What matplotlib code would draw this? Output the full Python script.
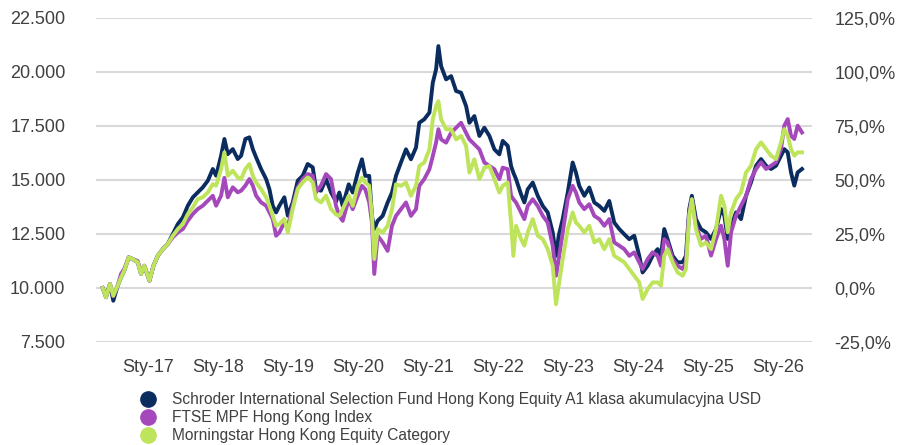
import pandas as pd
import matplotlib
matplotlib.use('Agg')
import matplotlib.pyplot as plt
import matplotlib.dates as mdates
from matplotlib.lines import Line2D
from matplotlib.ticker import FuncFormatter

plt.rcParams['font.family'] = ['Liberation Sans', 'DejaVu Sans']

labels = ['Schroder International Selection Fund Hong Kong Equity A1 klasa akumulacyjna USD',
          'FTSE MPF Hong Kong Index',
          'Morningstar Hong Kong Equity Category']
colors = ['#0b2c5f', '#a448bb', '#bde45a']

# time as decimal years (start = 10 000)
t_years = [
    2016.353, 2016.400, 2016.457, 2016.504, 2016.567, 2016.614, 2016.661, 2016.724, 2016.781, 2016.853,
    2016.900, 2016.947, 2017.019, 2017.076, 2017.139, 2017.210, 2017.281, 2017.353, 2017.424, 2017.496,
    2017.567, 2017.639, 2017.710, 2017.781, 2017.853, 2017.924, 2017.971, 2018.043, 2018.090, 2018.139,
    2018.210, 2018.281, 2018.329, 2018.390, 2018.447, 2018.496, 2018.543, 2018.614, 2018.686, 2018.733,
    2018.781, 2018.829, 2018.876, 2018.947, 2018.996, 2019.067, 2019.139, 2019.210, 2019.281, 2019.353,
    2019.400, 2019.471, 2019.543, 2019.614, 2019.686, 2019.733, 2019.781, 2019.867, 2019.924, 2019.996,
    2020.057, 2020.104, 2020.161, 2020.200, 2020.233, 2020.281, 2020.353, 2020.424, 2020.486, 2020.543,
    2020.614, 2020.686, 2020.757, 2020.829, 2020.876, 2020.947, 2021.019, 2021.067, 2021.114, 2021.147,
    2021.186, 2021.257, 2021.329, 2021.400, 2021.471, 2021.543, 2021.590, 2021.661, 2021.733, 2021.804,
    2021.876, 2021.947, 2022.019, 2022.067, 2022.139, 2022.186, 2022.219, 2022.257, 2022.329, 2022.376,
    2022.424, 2022.496, 2022.567, 2022.639, 2022.710, 2022.781, 2022.829, 2022.867, 2022.924, 2022.996,
    2023.067, 2023.114, 2023.161, 2023.233, 2023.304, 2023.376, 2023.447, 2023.519, 2023.590, 2023.661,
    2023.733, 2023.804, 2023.876, 2023.947, 2024.019, 2024.067, 2024.139, 2024.210, 2024.281, 2024.329,
    2024.376, 2024.424, 2024.496, 2024.567, 2024.639, 2024.686, 2024.733, 2024.771, 2024.829, 2024.900,
    2024.971, 2025.043, 2025.114, 2025.186, 2025.233, 2025.281, 2025.329, 2025.400, 2025.471, 2025.543,
    2025.614, 2025.686, 2025.757, 2025.829, 2025.900, 2025.971, 2026.043, 2026.090, 2026.139, 2026.186,
    2026.233, 2026.281, 2026.343,
]

schroder = [
    10000, 9570, 10185, 9410, 10110, 10490, 10800, 11420, 11340, 11190,
    10650, 11030, 10340, 11030, 11500, 11800, 12040, 12500, 12960, 13270,
    13810, 14200, 14430, 14660, 14970, 15510, 15200, 16125, 16900, 16200,
    16430, 15970, 16125, 16900, 16975, 16430, 16050, 15510, 15045, 14580,
    13810, 13500, 13810, 14200, 13350, 13965, 14970, 15200, 15740, 15585,
    14580, 14505, 15045, 14430, 14000, 14420, 13800, 14800, 14420, 15340,
    15960, 15190, 15190, 13340, 12730, 13110, 13340, 13960, 14420, 15190,
    15810, 16420, 15960, 16500, 17650, 17810, 18120, 19500, 20120, 21200,
    20270, 19660, 19810, 19120, 19040, 18420, 17650, 17960, 17040, 17420,
    17040, 16420, 16190, 16810, 16580, 15650, 15340, 15040, 14340, 13960,
    14570, 14880, 14270, 13800, 13500, 12570, 11490, 12420, 13190, 14420,
    15810, 15340, 14730, 14270, 14650, 13960, 13800, 13570, 14030, 13030,
    12730, 12490, 12260, 12420, 11490, 10720, 11030, 11490, 11800, 11490,
    12730, 12260, 11490, 11190, 11190, 11490, 13650, 14270, 13190, 12730,
    12580, 12270, 12730, 13660, 13350, 12270, 12885, 13500, 13190, 14270,
    14890, 15660, 15970, 15660, 15510, 15660, 16125, 16430, 16280, 15350,
    14740, 15350, 15510,
]

ftse = [
    10000, 9600, 10185, 9615, 10110, 10650, 10880, 11420, 11340, 11250,
    10700, 11030, 10340, 11030, 11500, 11800, 12040, 12345, 12575, 12730,
    13115, 13425, 13660, 13810, 14040, 14270, 13810, 14275, 15100, 14200,
    14660, 14430, 14505, 14740, 15045, 14740, 14275, 13965, 13810, 13500,
    13195, 12420, 12575, 13040, 12810, 13810, 14660, 15045, 15275, 15200,
    14430, 14740, 15275, 15045, 13800, 13340, 13110, 14110, 13650, 14270,
    14730, 14570, 13960, 13030, 10650, 12420, 12110, 11720, 12880, 13340,
    13650, 13960, 13340, 13650, 14730, 15040, 15500, 16110, 16730, 17350,
    16880, 16730, 17190, 17420, 17650, 17190, 16880, 16650, 16420, 15810,
    15650, 15500, 15040, 15570, 15500, 14270, 14110, 13960, 13500, 13190,
    13800, 14110, 13800, 13340, 13030, 11960, 10570, 11340, 12570, 14110,
    14730, 14420, 13960, 13650, 13880, 13340, 13190, 12880, 13190, 12110,
    11960, 11800, 11490, 11650, 11190, 10880, 11340, 11650, 11490, 11030,
    12260, 12110, 11340, 11030, 10880, 11190, 13500, 14110, 12880, 12270,
    12420, 11500, 12270, 12885, 12270, 11030, 12580, 13350, 13810, 14270,
    15045, 15510, 15820, 15510, 15660, 15820, 16430, 17515, 17820, 17050,
    16900, 17515, 17200,
]

morningstar = [
    10000, 9570, 10185, 9645, 10110, 10490, 10800, 11420, 11340, 11190,
    10650, 11030, 10340, 11030, 11500, 11800, 12040, 12420, 12730, 12960,
    13425, 13735, 14120, 14200, 14430, 14810, 14740, 15510, 16280, 15200,
    15430, 15120, 15045, 15510, 15740, 15200, 14890, 14580, 14200, 13810,
    13350, 12885, 12960, 13195, 12575, 13655, 14580, 14890, 15120, 14890,
    14120, 13965, 14275, 13655, 13400, 13340, 13650, 14270, 13800, 14730,
    15110, 14880, 14730, 13340, 11340, 12730, 12570, 12880, 13650, 14800,
    14730, 14880, 14270, 14730, 15650, 15810, 16420, 17810, 18420, 18650,
    17810, 17350, 17350, 16880, 17040, 16580, 15340, 15960, 15040, 15570,
    15650, 15040, 14420, 14730, 14880, 13030, 11490, 12880, 12260, 11960,
    12570, 13190, 12420, 12260, 11800, 11030, 9250, 10110, 11340, 12730,
    13500, 13030, 12880, 12570, 12880, 12110, 12260, 11800, 12260, 11490,
    11340, 11190, 10880, 10570, 10260, 9490, 9950, 10260, 10260, 10110,
    11490, 11800, 11190, 10720, 10570, 10880, 13340, 14110, 12730, 11960,
    12110, 11805, 12730, 14270, 13810, 12580, 13500, 14120, 14430, 15350,
    15660, 16430, 16740, 16430, 16125, 15970, 16740, 17360, 17050, 16430,
    16125, 16280, 16280,
]


def to_date(y):
    year = int(y)
    return pd.Timestamp(year=year, month=1, day=1) + pd.Timedelta(days=(y - year) * 365.25)


dates = [to_date(y) for y in t_years]

fig = plt.figure(figsize=(8.98, 4.45), dpi=100)
ax = fig.add_axes([96 / 898, 1 - 342 / 445, (812 - 96) / 898, (342 - 18) / 445])

for vals, c in zip([schroder, ftse, morningstar], colors):
    ax.plot(dates, vals, color=c, lw=2.8, solid_joinstyle='round')

ax.set_ylim(7500, 22500)
ax.set_yticks(range(7500, 22501, 2500))
ax.yaxis.set_major_formatter(FuncFormatter(lambda v, p: f"{v:,.0f}".replace(',', '.')))
ax.set_xlim(to_date(2016.257), to_date(2026.486))
ax.xaxis.set_major_locator(mdates.YearLocator())
ax.xaxis.set_major_formatter(FuncFormatter(lambda v, p: 'Sty-' + mdates.num2date(v).strftime('%y')))
ax.grid(axis='y', color='#d9d9d9', lw=1.5)
ax.set_axisbelow(True)
for s in ax.spines.values():
    s.set_visible(False)
ax.tick_params(axis='y', length=0, labelsize=13, pad=22, labelcolor='#404040')
ax.tick_params(axis='x', length=0, labelsize=13, pad=12, labelcolor='#404040')

ax2 = ax.twinx()
ax2.set_ylim(-25, 125)
ax2.set_yticks(range(-25, 126, 25))
ax2.yaxis.set_major_formatter(FuncFormatter(lambda v, p: f"{v:.1f}".replace('.', ',') + '%'))
for s in ax2.spines.values():
    s.set_visible(False)
ax2.tick_params(axis='y', length=0, labelsize=13, pad=16, labelcolor='#404040')

handles = [Line2D([], [], marker='o', ls='', color=c, markersize=11) for c in colors]
fig.legend(handles, labels, loc='upper left', bbox_to_anchor=(142 / 898, 1 - 392 / 445),
           frameon=False, fontsize=11.2, handlelength=0.8, handletextpad=1.1,
           labelspacing=0.2, borderpad=0, borderaxespad=0, labelcolor='#404040')

fig.savefig('out.png', dpi=100)
